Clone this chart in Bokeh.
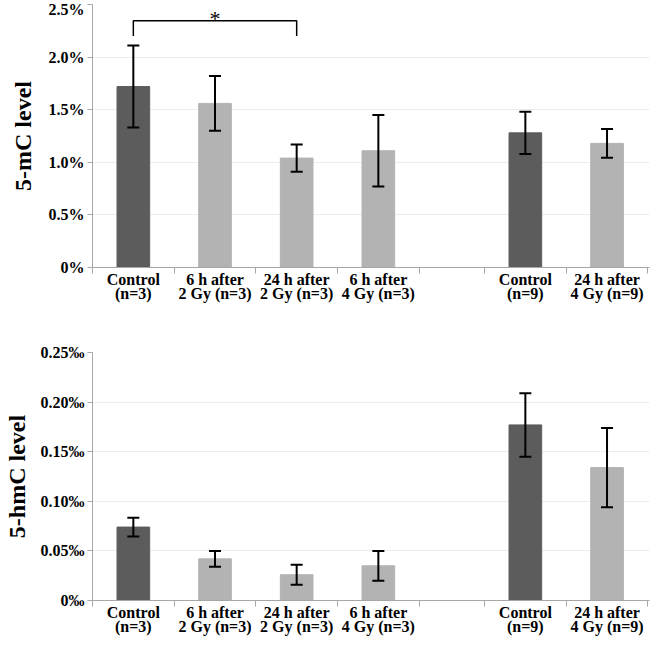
from bokeh.plotting import figure
from bokeh.layouts import column
from bokeh.models import (ColumnDataSource, FixedTicker, Whisker, TeeHead, Range1d)
from bokeh.core.properties import value
from bokeh.embed import file_html
from bokeh.resources import INLINE

# ---------------- data ----------------
labels = ["Control\n(n=3)", "6 h after\n2 Gy (n=3)", "24 h after\n2 Gy (n=3)",
          "6 h after\n4 Gy (n=3)", "Control\n(n=9)", "24 h after\n4 Gy (n=9)"]
bar_x = [0.5, 1.5, 2.5, 3.5, 5.3, 6.3]          # slot centres
slot_edges = [0, 1, 2, 3, 4, 4.8, 5.8, 6.8]      # category separators
is_control = [True, False, False, False, True, False]

mc_mean = [1.72, 1.56, 1.04, 1.11, 1.28, 1.18]    # 5-mC level, %
mc_err = [0.39, 0.26, 0.13, 0.34, 0.20, 0.136]
mc_ticks = [0, 0.5, 1.0, 1.5, 2.0, 2.5]
mc_tick_labels = ["0%", "0.5%", "1.0%", "1.5%", "2.0%", "2.5%"]

hmc_mean = [0.074, 0.042, 0.026, 0.035, 0.177, 0.134]  # 5-hmC level, per mille
hmc_err = [0.0095, 0.008, 0.010, 0.015, 0.032, 0.040]
hmc_ticks = [0, 0.05, 0.10, 0.15, 0.20, 0.25]
hmc_tick_labels = ["0\u2030", "0.05\u2030", "0.10\u2030", "0.15\u2030", "0.20\u2030", "0.25\u2030"]

# significance bracket between Control (n=3) and 24 h after 2 Gy
sig_x = [0.5, 0.5, 2.5, 2.5]
sig_y = [2.20, 2.345, 2.345, 2.20]
sig_star = "*"

DARK = "#5c5c5c"
LIGHT = "#b3b3b3"
AXIS = "#a6a6a6"
FONT = "Liberation Serif"


def make_panel(mean, err, ticks, tick_labels, ymax, ylabel, frame_h, top, label_standoff):
    colors = [DARK if c else LIGHT for c in is_control]
    src = ColumnDataSource(dict(x=bar_x, top=mean, color=colors,
                                upper=[m + e for m, e in zip(mean, err)],
                                lower=[m - e for m, e in zip(mean, err)]))
    p = figure(width=652, frame_height=frame_h, output_backend="svg", toolbar_location=None,
               x_range=Range1d(0, 6.82), y_range=Range1d(0, ymax),
               min_border_left=83, min_border_right=3,
               min_border_top=top, min_border_bottom=0)
    p.outline_line_color = None
    p.vbar(x="x", top="top", width=0.4, color="color", source=src)
    w = Whisker(base="x", upper="upper", lower="lower", source=src,
                line_color="black", line_width=2, level="overlay",
                upper_head=TeeHead(size=12, line_width=2, line_color="black"),
                lower_head=TeeHead(size=12, line_width=2, line_color="black"))
    p.add_layout(w)

    # x axis
    xa = p.xaxis[0]
    xa.ticker = FixedTicker(ticks=bar_x, minor_ticks=slot_edges)
    xa.major_label_overrides = {x: l for x, l in zip(bar_x, labels)}
    xa.major_tick_line_color = None
    xa.major_tick_out = 0
    xa.minor_tick_in = 0
    xa.minor_tick_out = 6
    xa.minor_tick_line_color = AXIS
    xa.axis_line_color = AXIS
    xa.major_label_text_font = FONT
    xa.major_label_text_font_style = "bold"
    xa.major_label_text_font_size = "16px"
    xa.major_label_text_line_height = 0.88
    xa.major_label_text_color = "black"
    xa.major_label_standoff = -3

    # y axis
    ya = p.yaxis[0]
    ya.ticker = FixedTicker(ticks=ticks)
    ya.major_label_overrides = {t: l for t, l in zip(ticks, tick_labels)}
    ya.minor_tick_line_color = None
    ya.major_tick_in = 0
    ya.major_tick_out = 5
    ya.major_tick_line_color = AXIS
    ya.axis_line_color = AXIS
    ya.major_label_text_font = FONT
    ya.major_label_text_font_style = "bold"
    ya.major_label_text_font_size = "16px"
    ya.major_label_text_color = "black"
    ya.major_label_standoff = 3
    ya.axis_label = ylabel
    ya.axis_label_text_font = FONT
    ya.axis_label_text_font_style = "bold"
    ya.axis_label_text_font_size = "24px"
    ya.axis_label_text_color = "black"
    ya.axis_label_standoff = label_standoff

    p.xgrid.grid_line_color = None
    p.ygrid.grid_line_color = "#ececec"
    p.ygrid.ticker = FixedTicker(ticks=ticks)
    return p


p1 = make_panel(mc_mean, mc_err, mc_ticks, mc_tick_labels, 2.5, "5-mC level",
                frame_h=263, top=4, label_standoff=10)
p1.line(sig_x, sig_y, line_color="black", line_width=1.5)
p1.text(x=[(sig_x[0] + sig_x[-1]) / 2], y=[sig_y[1]], text=[sig_star],
        text_font=value(FONT), text_font_size="22px", text_align="center",
        text_baseline="middle", text_color="black", y_offset=-2)

p2 = make_panel(hmc_mean, hmc_err, hmc_ticks, hmc_tick_labels, 0.25, "5-hmC level",
                frame_h=248, top=47, label_standoff=8)

layout = column(p1, p2, spacing=0)
open("out.html", "w").write(file_html(layout, INLINE))
